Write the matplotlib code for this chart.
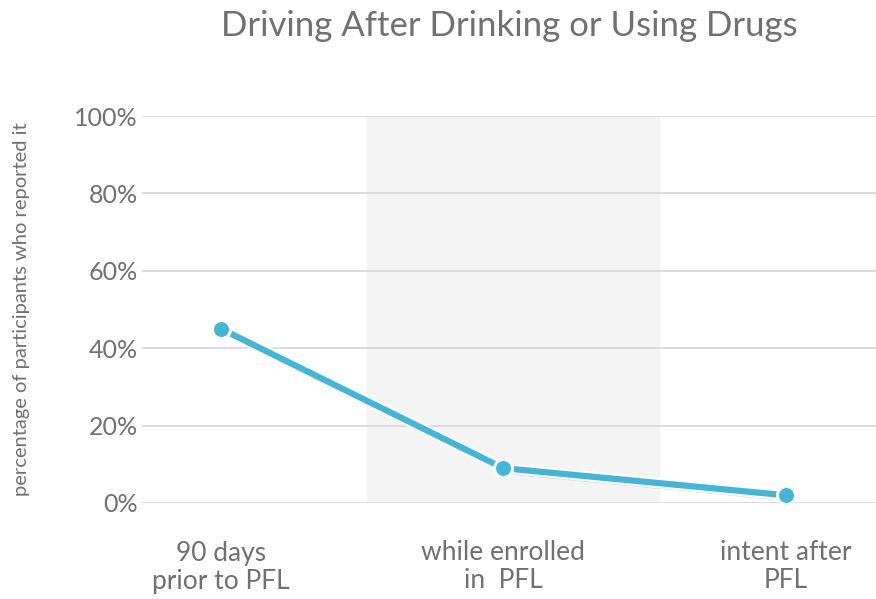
import matplotlib
matplotlib.use("Agg")
import matplotlib.pyplot as plt
import matplotlib.patheffects as pe

categories = ["90 days\nprior to PFL", "while enrolled\nin  PFL", "intent after\nPFL"]
values = [45, 9, 2]
yticks = [0, 20, 40, 60, 80, 100]
ytick_labels = ["0%", "20%", "40%", "60%", "80%", "100%"]

grey = "#707070"
blue = "#45b5d6"
plt.rcParams['font.family'] = ['Lato', 'DejaVu Sans']

fig = plt.figure(figsize=(8.76, 5.99), dpi=100)
W, H = 876, 599
ax = fig.add_axes([142 / W, 1 - 503 / H, (876 - 142) / W, (503 - 116) / H])

x = list(range(len(categories)))
ax.set_xlim(-0.28, 2.32)
ax.set_ylim(0, 100)

# shaded middle band
ax.axvspan(0.517, 1.55, color="#f4f4f4", zorder=0)

for t in yticks:
    ax.axhline(t, color="#d3d3d3", lw=1.1, zorder=1)

# line with white outline + soft shadow
ax.plot(x, values, color=blue, lw=4.5, zorder=3, solid_capstyle="round",
        path_effects=[pe.SimpleLineShadow(offset=(1.5, -2), shadow_color="black", alpha=0.15),
                      pe.Stroke(linewidth=7.5, foreground="white"), pe.Normal()])
# markers
ax.plot(x, values, linestyle="none", marker="o", ms=13, mfc=blue, mec="white", mew=2.2,
        zorder=4, clip_on=False)

ax.set_yticks(yticks)
ax.set_yticklabels(ytick_labels, fontsize=18, color=grey)
ax.set_xticks(x)
ax.set_xticklabels(categories, fontsize=19, color=grey, linespacing=1.15)
ax.tick_params(axis="both", length=0)
ax.tick_params(axis="y", pad=3)
ax.tick_params(axis="x", pad=27)
for s in ax.spines.values():
    s.set_visible(False)

fig.text(509 / W, 1 - 26 / H, "Driving After Drinking or Using Drugs", fontsize=25,
         color=grey, ha="center", va="center")
fig.text(22 / W, 1 - 309 / H, "percentage of participants who reported it", fontsize=14.5,
         color=grey, rotation=90, ha="center", va="center")

fig.savefig("out.png", dpi=100)
